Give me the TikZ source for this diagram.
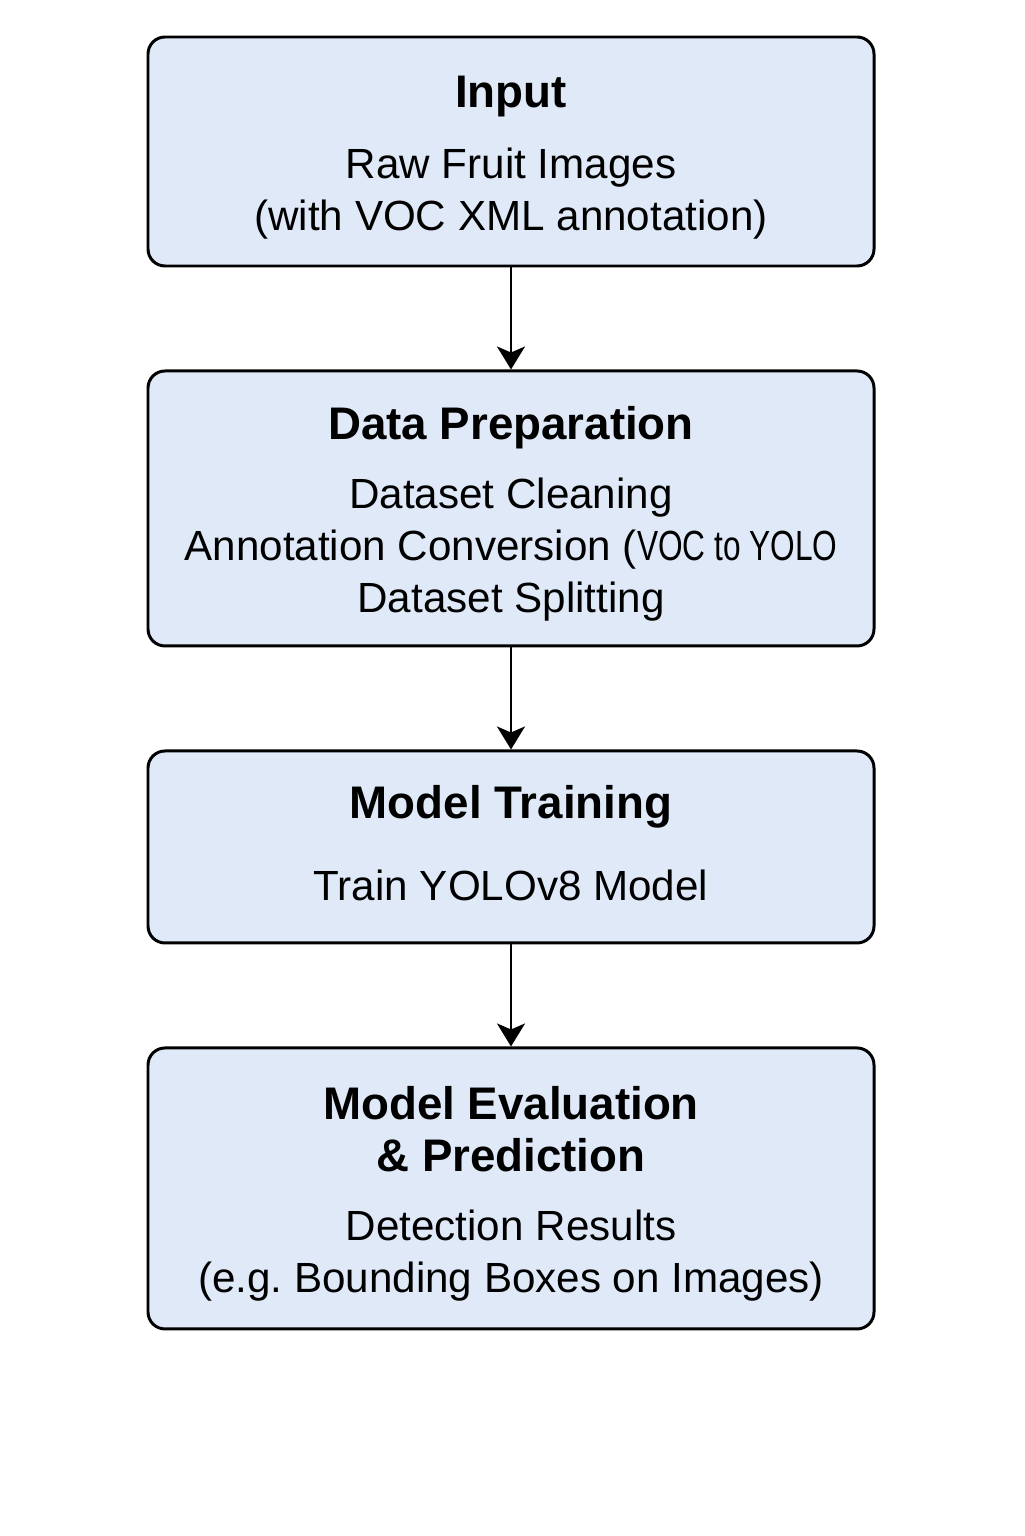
\documentclass[tikz,border=0pt]{standalone}
\usepackage{fontspec}
\setmainfont{Liberation Sans}
\usepackage{graphicx}
\usetikzlibrary{positioning, arrows.meta}

\definecolor{stagefill}{HTML}{DFE9F8}

\newcommand{\stagetitle}[1]{{\fontsize{26}{30.5}\selectfont\bfseries #1}}
\newcommand{\stagetop}{\rule{0pt}{25pt}}

\begin{document}
\frenchspacing
\begin{tikzpicture}[
	stage/.style={draw=black, line width=1.7pt, fill=stagefill, rounded corners=3.4mm,
		minimum width=14.52cm, align=center, font=\fontsize{24}{29.6}\selectfont},
	flow/.style={line width=1.3pt, -{Stealth[length=4.6mm, width=5.6mm, inset=1.2mm]}},
	node distance=2.04cm,
	]
	\useasboundingbox (0,0) rectangle (20.48,-30.72);

	\node[stage, minimum height=4.58cm] (input) at (10.22,-3.03)
		{\stagetop\stagetitle{Input}\\[11pt] Raw Fruit Images\\ (with VOC XML annotation)};
	\node[stage, minimum height=5.5cm, below=of input] (prep)
		{\stagetop\stagetitle{Data Preparation}\\[10pt] Dataset Cleaning\\
		 Annotation Conversion (\scalebox{0.75}[1]{VOC to YOLO}\\ Dataset Splitting};
	\node[stage, minimum height=3.84cm, below=of prep] (train)
		{\stagetitle{Model Training}\\[17pt] Train YOLOv8 Model\rule[-5pt]{0pt}{5pt}};
	\node[stage, minimum height=5.62cm, below=of train] (eval)
		{\stagetop\stagetitle{Model Evaluation}\\ \stagetitle{\& Prediction}\\[10pt]
		 Detection Results\\ (e.g. Bounding Boxes on Images)};

	\draw[flow] (input) -- (prep);
	\draw[flow] (prep) -- (train);
	\draw[flow] (train) -- (eval);

\end{tikzpicture}
\end{document}
